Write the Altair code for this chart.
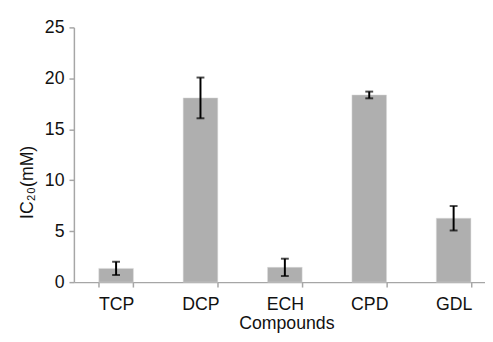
import altair as alt
import pandas as pd

compounds = ["TCP", "DCP", "ECH", "CPD", "GDL"]
ic20 = [1.35, 18.08, 1.45, 18.37, 6.27]
errors = [0.65, 2.0, 0.85, 0.33, 1.2]
y_ticks = [0, 5, 10, 15, 20, 25]

df = pd.DataFrame({"Compound": compounds, "IC20": ic20, "err": errors})
df["lo"] = df["IC20"] - df["err"]
df["hi"] = df["IC20"] + df["err"]

FONT = "Liberation Sans"
AXC = "#a6a6a6"

xenc = alt.X(
    "Compound:N",
    sort=compounds,
    title="Compounds",
    scale=alt.Scale(range=[0, 429], paddingInner=0.59, paddingOuter=0.295),
    axis=alt.Axis(
        labelAngle=0,
        tickBand="extent",
        domainColor=AXC,
        domainWidth=1.5,
        tickColor=AXC,
        tickWidth=1.5,
        tickSize=5,
        labelPadding=9,
        titlePadding=1,
        titleX=216,
    ),
)

yscale = alt.Scale(domain=[0, 25])

bars = alt.Chart(df).mark_bar(color="#afafaf", stroke="#d9d9d9", strokeWidth=0.5).encode(
    x=xenc,
    y=alt.Y(
        "IC20:Q",
        scale=yscale,
        title="IC₂₀(mM)",
        axis=alt.Axis(
            values=y_ticks,
            grid=False,
            domainColor=AXC,
            domainWidth=1.5,
            tickColor=AXC,
            tickWidth=1.5,
            tickSize=5,
            labelPadding=5,
            titleX=-38,
            titleY=157,
        ),
    ),
)

rules = alt.Chart(df).mark_rule(color="black", strokeWidth=2).encode(
    x=alt.X("Compound:N", sort=compounds),
    y=alt.Y("lo:Q", scale=yscale),
    y2="hi:Q",
)

caps_hi = alt.Chart(df).mark_tick(color="black", thickness=2, size=8, orient="horizontal").encode(
    x=alt.X("Compound:N", sort=compounds),
    y=alt.Y("hi:Q", scale=yscale),
)
caps_lo = alt.Chart(df).mark_tick(color="black", thickness=2, size=8, orient="horizontal").encode(
    x=alt.X("Compound:N", sort=compounds),
    y=alt.Y("lo:Q", scale=yscale),
)

chart = (
    alt.layer(bars, rules, caps_hi, caps_lo)
    .properties(
        width=418,
        height=259,
        autosize=alt.AutoSizeParams(type="none"),
        padding={"left": 67, "top": 17, "right": 0, "bottom": 50},
    )
    .configure_view(stroke=None)
    .configure_axis(
        labelFont=FONT,
        titleFont=FONT,
        labelFontSize=18,
        titleFontSize=18,
        titleFontWeight="normal",
        labelColor="#111111",
        titleColor="#111111",
    )
)

chart.save("out.html", embed_options={"renderer": "svg", "actions": False})
